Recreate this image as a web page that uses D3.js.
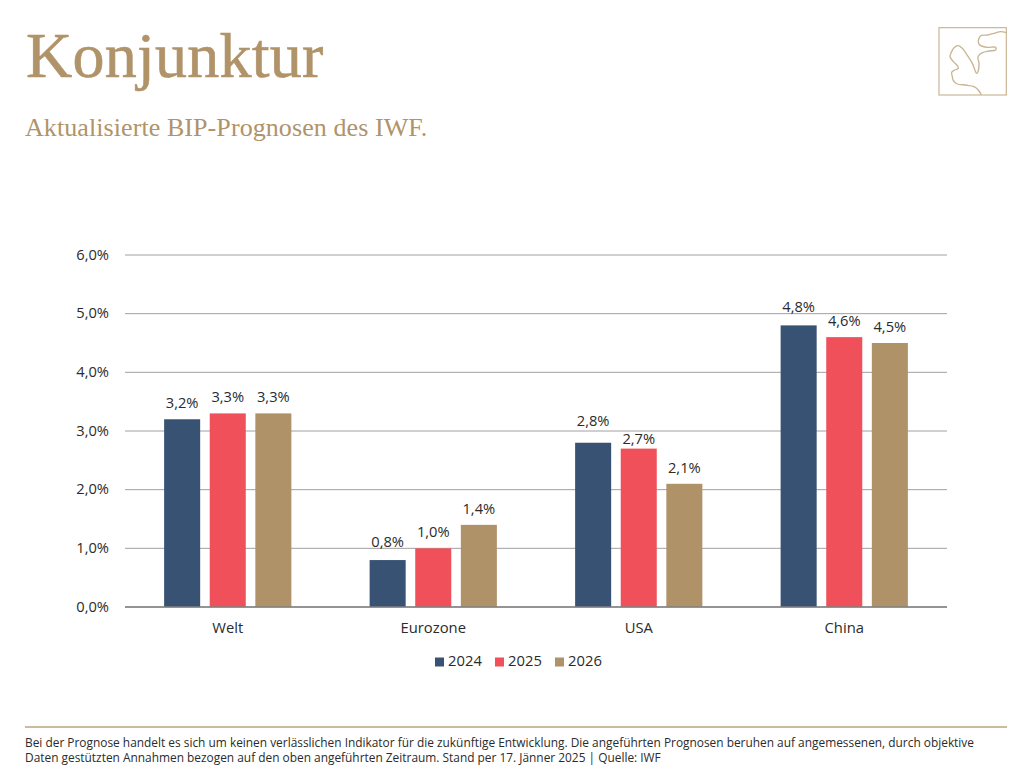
<!DOCTYPE html>
<html>
<head>
<meta charset="utf-8">
<script src="https://cdn.jsdelivr.net/npm/d3@7"></script>
<style>
html,body{margin:0;padding:0;background:#fff}
text{font-family:"Open Sans",sans-serif;fill:#2b2b2b}
.serif{font-family:"Liberation Serif",serif;fill:#b09369}
</style>
</head>
<body>
<svg id="chart" width="1024" height="774" style="display:block"></svg>
<script>
var categories=["Welt","Eurozone","USA","China"]
var years=["2024","2025","2026"]
var values2024=[3.2,0.8,2.8,4.8]
var values2025=[3.3,1.0,2.7,4.6]
var values2026=[3.3,1.4,2.1,4.5]
var yTicks=[0,1,2,3,4,5,6]
var colors=["#375273","#f0505a","#af9268"]
var series=[values2024,values2025,values2026]

var footnote=["Bei der Prognose handelt es sich um keinen verlässlichen Indikator für die zukünftige Entwicklung. Die angeführten Prognosen beruhen auf angemessenen, durch objektive",
	"Daten gestützten Annahmen bezogen auf den oben angeführten Zeitraum. Stand per 17. Jänner 2025 | Quelle: IWF"]

// logo outline, in 3x zoom units
var logoPts=[[172,240],[163,225],[150,215],[125,210],[100,207],[88,197],[85,185],[83,172],[92,165],[103,160],[100,152],[88,140],[78,125],[82,112],[90,98],[103,92],[115,100],[128,118],[145,145],[158,175],[162,170],[165,145],[162,125],[175,113],[195,108],[215,105],[215,97],[190,97],[170,92],[163,82],[170,62],[190,60],[210,55],[230,50],[247,53]]

var fmt=function(v){return v.toFixed(1).replace(".",",")+"%"}
var svg=d3.select("#chart")

svg.append("text").attr("class","serif").attr("x",26).attr("y",77)
	.style("font-size","64px").style("letter-spacing","0.25px")
	.style("stroke","#b09369").style("stroke-width","0.6px").text("Konjunktur")
svg.append("text").attr("class","serif").attr("x",25).attr("y",136)
	.style("font-size","26px").style("letter-spacing","0.08px").text("Aktualisierte BIP-Prognosen des IWF.")

// logo
var logo=svg.append("g").attr("transform","translate(924,15) scale(0.3333)")
logo.append("rect").attr("x",45).attr("y",38).attr("width",202).attr("height",202)
	.attr("fill","none").attr("stroke","#c9b593").attr("stroke-width",3.5)
logo.append("path").attr("d",d3.line().curve(d3.curveCatmullRom)(logoPts))
	.attr("fill","none").attr("stroke","#c9b593").attr("stroke-width",4)

// scales
var x=d3.scaleBand().domain(categories).range([125,947])
var x1=d3.scaleBand().domain(years).range([0,x.bandwidth()]).paddingInner(.21).paddingOuter(.858)
var y=d3.scaleLinear().domain([0,6]).range([607,255])

// axes
var yAxis=svg.append("g").attr("transform","translate(125,0)")
	.call(d3.axisLeft(y).tickValues(yTicks).tickFormat(fmt).tickSize(-822).tickPadding(16).offset(0))
yAxis.select(".domain").remove()
yAxis.selectAll("line").attr("stroke","#a0a0a0").attr("stroke-width",1)
yAxis.selectAll("text").style("font-size","14.7px")

var xAxis=svg.append("g").attr("transform","translate(0,607)")
	.call(d3.axisBottom(x).tickSize(0).tickPadding(15))
xAxis.select(".domain").remove()
xAxis.selectAll("text").style("font-size","14.8px")

// the reference moves a few labels away from the usual gap above the bar
var labelNudge={"2024-Eurozone":2,"2024-USA":6,"2024-China":2,"2025-USA":-6.5}

// bars
series.forEach(function(vals,i){
	var g=svg.append("g")
	g.selectAll("rect").data(vals).enter().append("rect")
		.attr("x",function(d,j){return x(categories[j])+x1(years[i])})
		.attr("y",function(d){return y(d)})
		.attr("width",x1.bandwidth())
		.attr("height",function(d){return y(0)-y(d)})
		.attr("fill",colors[i])
	g.selectAll("text").data(vals).enter().append("text")
		.attr("x",function(d,j){return x(categories[j])+x1(years[i])+x1.bandwidth()/2})
		.attr("y",function(d,j){return y(d)-11-(labelNudge[years[i]+"-"+categories[j]]||0)})
		.attr("text-anchor","middle")
		.style("font-size","14.7px")
		.text(fmt)
})

// baseline over the bars
svg.append("line").attr("x1",125).attr("x2",947).attr("y1",y(0)).attr("y2",y(0))
	.attr("stroke","#808080").attr("stroke-width",1.5)

// legend
var legendX=[435,495,555]
years.forEach(function(yr,i){
	svg.append("rect").attr("x",legendX[i]).attr("y",657.5).attr("width",9).attr("height",9).attr("fill",colors[i])
	svg.append("text").attr("x",legendX[i]+13).attr("y",666).style("font-size","14.8px").text(yr)
})

// footer
svg.append("line").attr("x1",25).attr("x2",1007).attr("y1",727).attr("y2",727)
	.attr("stroke","#b8a47f").attr("stroke-width",1.5)
footnote.forEach(function(t,i){
	svg.append("text").attr("x",25).attr("y",747+i*14.5).style("font-size","11.9px").text(t)
})
</script>
</body>
</html>
